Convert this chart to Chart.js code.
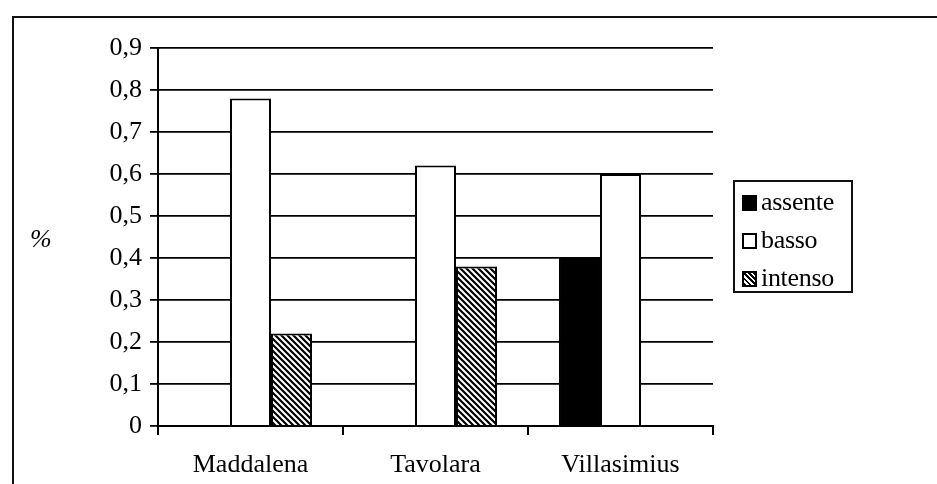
<!DOCTYPE html>
<html>
<head>
<meta charset="utf-8">
<script src="https://cdn.jsdelivr.net/npm/chart.js@4"></script>
<style>
    html, body {
        margin: 0;
        padding: 0;
        background: #fff;
        width: 937px;
        height: 484px;
        overflow: hidden;
        font-family: "Liberation Serif", "Times New Roman", serif;
    }
    .frame {
        position: absolute;
        left: 12px;
        top: 16px;
        width: 1000px;
        height: 1000px;
        border: 2px solid #111;
    }
    #chart {
        position: absolute;
        left: 0;
        top: 0;
    }
    .ylabel {
        position: absolute;
        left: 30px;
        top: 224px;
        font-size: 26px;
        font-style: italic;
        color: #000;
    }
    .legend {
        position: absolute;
        left: 733px;
        top: 180px;
        width: 120px;
        height: 113px;
        border: 2px solid #111;
        box-sizing: border-box;
    }
    .legend .row {
        position: absolute;
        left: 7px;
        height: 30px;
        line-height: 30px;
        font-size: 26px;
        color: #000;
        white-space: nowrap;
        letter-spacing: -0.3px;
    }
    .legend .box {
        display: inline-block;
        width: 11px;
        height: 12px;
        border: 2px solid #000;
        margin-right: 4px;
        vertical-align: -1px;
    }
</style>
</head>
<body>
<div class="frame"></div>
<canvas id="chart" width="937" height="484"></canvas>
<div class="ylabel">%</div>
<div class="legend" id="legend"></div>

<script>
const categories = ["Maddalena", "Tavolara", "Villasimius"];
const seriesNames = ["assente", "basso", "intenso"];
const assente = [0, 0, 0.4];
const basso = [0.78, 0.62, 0.6];
const intenso = [0.22, 0.38, 0];
const yTicks = [0, 0.1, 0.2, 0.3, 0.4, 0.5, 0.6, 0.7, 0.8, 0.9];

const makeHatch = () => {
    const n = 6;
    const c = document.createElement("canvas");
    c.width = n;
    c.height = n;
    const g = c.getContext("2d");
    g.fillStyle = "#fff";
    g.fillRect(0, 0, n, n);
    g.strokeStyle = "#000";
    g.lineWidth = 2.2;
    g.beginPath();
    g.moveTo(-1, -1);
    g.lineTo(n + 1, n + 1);
    g.moveTo(n - 1, -1);
    g.lineTo(n + 1, 1);
    g.moveTo(-1, n - 1);
    g.lineTo(1, n + 1);
    g.stroke();
    return g.createPattern(c, "repeat");
};

const hatch = makeHatch();
const fills = ["#000", "#fff", hatch];
const cssFills = [
    "#000",
    "#fff",
    "repeating-linear-gradient(45deg, #000 0 2px, #fff 2px 3.6px)",
];

// html legend with boxed frame
const legend = document.getElementById("legend");
seriesNames.forEach((name, i) => {
    const row = document.createElement("div");
    row.className = "row";
    row.style.top = 5 + i * 38 + "px";
    row.innerHTML =
        '<span class="box" style="background:' + cssFills[i] + '"></span>' + name;
    legend.appendChild(row);
});

const font = { family: "'Liberation Serif', 'Times New Roman', serif", size: 26 };

new Chart(document.getElementById("chart").getContext("2d"), {
    type: "bar",
    data: {
        labels: categories,
        datasets: [assente, basso, intenso].map((values, i) => ({
            label: seriesNames[i],
            data: values,
            backgroundColor: fills[i],
            borderColor: "#000",
            borderWidth: 2,
            categoryPercentage: 0.665,
            barPercentage: 1,
        })),
    },
    options: {
        responsive: false,
        animation: false,
        devicePixelRatio: 1,
        layout: {
            padding: { left: 20, right: 224, top: 48, bottom: 0 },
        },
        plugins: {
            legend: { display: false },
            tooltip: { enabled: false },
        },
        scales: {
            x: {
                offset: true,
                afterFit: (s) => {
                    s.height = 58;
                },
                grid: {
                    display: true,
                    offset: true,
                    drawOnChartArea: false,
                    drawTicks: true,
                    tickLength: 9,
                    color: "#000",
                    lineWidth: 2,
                },
                border: { display: true, color: "#000", width: 2 },
                ticks: { color: "#000", font: font, padding: 15 },
            },
            y: {
                min: 0,
                max: yTicks[yTicks.length - 1],
                afterFit: (s) => {
                    s.width = 138;
                },
                afterBuildTicks: (s) => {
                    s.ticks = yTicks.map((v) => ({ value: v }));
                },
                grid: {
                    color: "#000",
                    lineWidth: 1.8,
                    tickLength: 8,
                },
                border: { display: true, color: "#000", width: 2 },
                ticks: {
                    color: "#000",
                    font: font,
                    padding: 8,
                    callback: (v) => (v === 0 ? "0" : v.toFixed(1).replace(".", ",")),
                },
            },
        },
    },
});
</script>
</body>
</html>
